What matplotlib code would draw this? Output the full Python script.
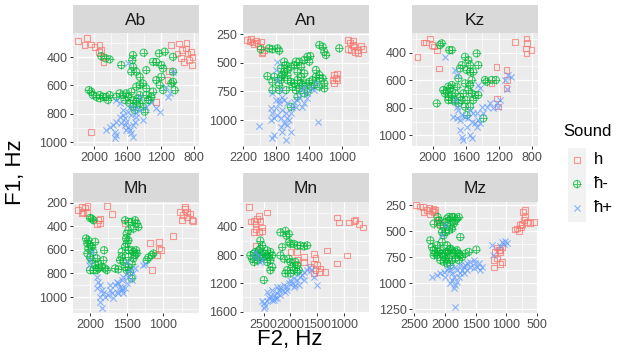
import matplotlib
matplotlib.use("Agg")
import matplotlib.pyplot as plt
from matplotlib.ticker import MultipleLocator, FixedLocator
from matplotlib.patches import Rectangle

plt.rcParams['font.family'] = ['Liberation Sans', 'DejaVu Sans']

# ---------------- data: (F2, F1) pairs per speaker and sound ----------------
SPEAKERS = ["Ab", "An", "Kz", "Mh", "Mn", "Mz"]
SOUNDS = ["h", "ħ-", "ħ+"]

AB_H = [(2187,285),(2084,264),(2111,315),(2032,311),(1992,327),(1932,315),(1912,351),(1893,398),
        (1885,433),(1940,362),(2032,927),(1256,715),(1116,562),(1096,496),(1077,315),(977,304),
        (945,351),(890,299),(878,374),(858,421),(838,362),(818,398),(826,456),(957,409),(917,433),
        (898,339),(997,374)]
AB_HM = [(1912,393),(1860,409),(1812,416),(1672,456),(1532,386),(1540,421),(1404,369),(1532,468),
         (1552,503),(1492,503),(1452,539),(1372,492),(1292,433),(1220,374),(1152,362),(1252,433),
         (1192,456),(1172,480),(1052,398),(1192,539),(1252,562),(1212,597),(1172,633),(1372,621),
         (1452,597),(1412,586),(1492,609),(1552,644),(1612,656),(1592,680),(1532,703),(1492,715),
         (1452,727),(1412,750),(1532,750),(1572,727),(1632,703),(1652,668),(1692,656),(1732,680),
         (1472,691),(1352,703),(1312,680),(1292,644),(1052,574),(1032,633),(1072,586),(1052,503),
         (2060,633),(2032,644),(2012,668),(1972,680),(1932,668),(1892,680),(1852,680),(1812,668),
         (1932,691),(1832,703),(1372,668),(1332,703),(1452,668),(1512,774),(1392,786)]
AB_HP = [(1732,703),(1692,727),(1592,445),(1652,774),(1692,821),(1632,832),(1612,856),(1732,856),
         (1772,879),(1812,891),(1852,915),(1752,926),(1752,973),(1732,950),(1552,938),(1532,962),
         (1572,915),(1532,879),(1492,821),(1492,797),(1452,774),(1412,844),(1552,809),(1592,785),
         (1572,750),(1512,856),(1632,879),(1592,891),(1672,868),(1612,915),(1452,680),(1312,715),
         (1252,762),(1212,785),(1112,680),(1092,656),(1052,503),(1132,609),(1372,750),(1652,809),
         (1512,762)]

AN_H = [(2151,300),(2119,314),(2090,323),(2110,294),(2049,305),(2029,329),(2070,335),(1988,314),
        (1996,358),(1968,402),(1948,387),(1976,416),(930,300),(898,323),(869,343),(849,358),
        (890,387),(930,381),(841,402),(808,387),(767,352),(747,381),(808,416),(869,305),
        (1093,606),(1073,635),(1052,650),(1060,592),(1093,679),(1113,650)]
AN_HM = [(1988,381),(1887,373),(1846,381),(1785,373),(1765,393),(1907,615),(1846,665),(1846,738),
         (1765,694),(1744,650),(1724,606),(1703,577),(1744,548),(1703,489),(1683,519),(1663,562),
         (1622,533),(1581,519),(1561,489),(1520,489),(1500,533),(1459,475),(1419,446),(1386,440),
         (1398,489),(1459,592),(1500,621),(1541,650),(1581,679),(1622,665),(1663,650),(1602,708),
         (1561,738),(1520,723),(1480,694),(1439,679),(1398,665),(1358,650),(1317,621),(1276,635),
         (1235,635),(1215,679),(1215,723),(1276,708),(1337,694),(1378,708),(1419,752),(1459,767),
         (1541,796),(1622,884),(1683,738),(1765,738),(1826,621),(1744,621),(1500,679),(1541,577),
         (1663,606),(1276,343),(1235,358),(1215,402),(1195,431),(1032,373),(1276,606),(1317,562)]
AN_HP = [(2009,1053),(1785,489),(1805,562),(1785,650),(1846,767),(1744,738),(1724,796),(1703,825),
         (1765,825),(1805,898),(1846,942),(1826,986),(1866,1000),(1785,957),(1744,986),(1724,913),
         (1683,942),(1663,986),(1703,1030),(1744,1059),(1663,1044),(1642,1000),(1622,942),(1602,884),
         (1581,840),(1541,825),(1520,796),(1480,884),(1459,854),(1419,811),(1500,738),(1459,708),
         (1419,767),(1378,723),(1337,738),(1317,679),(1683,1176),(1826,1132),(1846,1161),(1724,1103),
         (1296,1015),(1765,854),(1805,825),(1663,854),(1561,884),(1622,1103),(1866,898)]

KZ_H = [(2184,434),(2112,327),(2080,327),(2032,296),(2012,344),(1984,356),(1952,385),(1920,514),
        (1230,502),(1222,732),(1210,792),(1110,526),(1102,598),(1110,659),(1010,320),(870,296),
        (861,332),(877,369),(809,381),(870,405),(1290,623)]
KZ_HM = [(1912,344),(1892,332),(1800,381),(1771,381),(1611,429),(1651,490),(1671,514),(1571,453),
         (1551,490),(1471,405),(1451,490),(1551,538),(1591,526),(1511,538),(1531,598),(1551,635),
         (1571,671),(1531,695),(1491,707),(1451,707),(1511,744),(1591,744),(1551,792),(1611,792),
         (1390,877),(1370,598),(1290,598),(1238,598),(1350,611),(1691,586),(1771,635),(1792,659),
         (1832,683),(1852,695),(1812,719),(1771,707),(1731,695),(1771,744),(1731,756),(1812,744),
         (1872,671),(1952,768),(1671,719),(1631,695),(1651,744),(1691,768),(1711,647),(1611,623),
         (1591,853),(1812,647)]
KZ_HP = [(1852,429),(1731,526),(1711,562),(1451,635),(1431,659),(1731,744),(1711,792),(1691,816),
         (1751,865),(1711,877),(1671,889),(1651,853),(1611,865),(1571,877),(1531,901),(1491,913),
         (1471,937),(1451,889),(1511,840),(1671,961),(1651,1010),(1551,998),(1531,1022),(1631,1034),
         (1411,792),(1350,792),(1310,768),(1270,804),(1230,768),(1190,744),(1130,598),(1090,562),
         (1062,574),(1110,666),(1210,792),(1390,840),(1471,840),(1431,913),(1591,937),(1551,816)]

MH_H = [(2159,265),(2114,237),(2068,242),(2036,231),(2091,279),(2045,287),(2114,293),(1886,349),
        (1864,377),(1909,383),(1864,335),(1773,231),(1705,299),(1523,377),(1182,541),(1055,532),
        (1055,589),(1036,603),(1091,645),(1159,772),(864,485),(773,279),(736,307),(705,237),
        (682,279),(673,321),(636,293),(614,349),(591,355),(750,349),(700,256)]
MH_HM = [(2000,330),(1977,335),(1955,349),(2055,504),(2036,546),(2023,589),(2036,631),(2000,665),
         (1977,687),(1955,617),(1932,532),(2000,561),(2023,518),(1977,575),(1909,673),(1886,716),
         (1932,730),(1886,758),(1909,772),(1841,744),(1795,758),(1773,772),(1818,687),(1809,603),
         (1955,772),(2000,772),(1523,349),(1477,363),(1432,363),(1386,349),(1364,377),(1341,406),
         (1409,420),(1477,434),(1500,462),(1509,504),(1477,518),(1500,546),(1523,575),(1568,617),
         (1568,659),(1591,687),(1545,701),(1523,744),(1500,772),(1455,786),(1432,842),(1477,744),
         (1432,716),(1409,673),(1386,645),(1364,631),(1409,617),(1432,603),(1477,603),(1659,758),
         (1614,766),(1477,659),(1227,687),(1205,665),(1159,645),(1136,631),(1373,603)]
MH_HP = [(1977,617),(2000,687),(2009,730),(1909,828),(1886,870),(1864,899),(1909,927),(1841,941),
         (1818,969),(1864,997),(1795,997),(1750,983),(1727,941),(1705,969),(1659,899),(1636,870),
         (1614,885),(1591,913),(1568,941),(1545,969),(1523,927),(1568,856),(1500,885),(1477,828),
         (1432,856),(1409,800),(1386,758),(1455,772),(1500,800),(1636,955),(1682,1011),(1727,899),
         (1841,1096),(1864,1039),(1500,701),(1273,730),(1250,716),(1568,927),(1614,969),(1545,828)]

MN_H = [(2781,121),(2750,326),(2688,316),(2656,363),(2625,293),(2594,247),(2563,316),(2656,433),
        (2688,479),(2594,479),(2531,409),(2531,456),(2438,200),(2656,665),(2000,758),(1875,758),
        (1750,828),(1563,781),(1531,837),(1563,921),(1500,944),(1531,1014),(1563,1060),(1469,1037),
        (1438,991),(1344,1037),(1313,735),(1125,921),(1125,270),(1094,340),(938,805),(906,340),
        (813,316),(781,307),(719,363),(638,409),(1750,898),(1625,967),(1875,874)]
MN_HM = [(2750,805),(2719,851),(2688,781),(2656,758),(2625,805),(2594,828),(2563,851),(2531,805),
         (2500,828),(2469,781),(2438,805),(2406,828),(2594,735),(2563,595),(2531,665),(2438,735),
         (2375,758),(2344,805),(2375,874),(2438,898),(2344,967),(2375,1014),(2500,1153),(2563,712),
         (2625,874),(2688,898),(2188,479),(2094,456),(2075,526),(2031,502),(2156,688),(2031,619),
         (2000,642),(1938,642),(1875,665),(1813,665),(1750,679),(1688,665),(2188,805),(2125,851),
         (2031,851),(2000,898),(1969,967),(1906,898),(1875,944),(1844,1014),(1938,1014),(2063,1014),
         (2094,1060),(2000,1060),(1875,1037)]
MN_HP = [(2656,758),(2594,805),(2563,898),(2531,874),(2688,828),(2500,1479),(2469,1525),(2531,1456),
         (2500,1549),(2438,1456),(2406,1409),(2375,1386),(2344,1432),(2313,1363),(2281,1409),
         (2250,1339),(2219,1293),(2188,1246),(2156,1293),(2125,1223),(2063,1246),(2031,1200),
         (2000,1153),(1969,1200),(1938,1130),(1906,1223),(1875,1153),(1813,1107),(1781,1084),
         (1750,1037),(1688,1014),(1656,967),(1625,1014),(1563,1107),(1500,1223),(2250,1246),
         (2188,1363),(2094,1316),(2063,1293),(1938,1246),(1844,1223),(1750,1153),(2438,1316),
         (2344,1293),(2313,1432),(2250,1409)]

MZ_H = [(2467,253),(2402,263),(2359,269),(2348,317),(2293,301),(2250,276),(2212,308),(2239,333),
        (2185,285),(2158,295),(2174,317),(2130,413),(2103,397),(2076,429),(1206,780),(1152,764),
        (1125,685),(1098,685),(1071,659),(1098,700),(1152,659),(1071,796),(1098,819),(1206,851),
        (853,486),(826,477),(772,445),(744,429),(717,397),(690,365),(728,317),(701,295),(663,413),
        (609,423),(554,413),(799,499),(761,467),(1179,700)]
MZ_HM = [(2120,365),(2103,397),(2076,445),(2049,509),(2022,461),(1995,413),(1967,381),(1940,365),
         (1913,397),(1886,365),(1859,365),(1831,397),(1804,381),(1777,365),(1859,429),(1913,445),
         (1940,493),(1886,477),(1995,509),(2022,541),(1750,557),(2185,429),(2239,589),(2212,653),
         (2185,685),(2158,716),(2185,732),(2130,732),(2103,700),(2076,685),(2049,716),(2022,748),
         (1995,716),(1967,700),(1940,685),(1913,669),(1886,685),(1859,716),(1831,700),(1804,685),
         (1777,716),(1750,732),(1723,748),(1668,716),(1614,700),(1489,678),(2076,780),(2022,796),
         (1967,812),(1913,828),(1886,780),(1995,764),(2130,637),(2049,605),(1967,637),(1940,755),
         (1831,764),(1777,780)]
MZ_HP = [(2049,541),(1995,445),(2212,940),(2130,924),(2076,908),(2022,892),(1995,940),(1967,876),
         (1940,844),(1913,876),(1886,908),(1859,940),(1886,972),(1913,1004),(1831,1020),(1859,1052),
         (1804,988),(1777,940),(1750,908),(1804,876),(1723,876),(1696,844),(1668,828),(1641,812),
         (1587,796),(1533,780),(1505,812),(1478,844),(1451,812),(1424,876),(1397,844),(1533,860),
         (1587,844),(1641,876),(1696,908),(1831,1228),(1234,637),(1217,732),(1071,605),(1043,621),
         (1016,595),(989,614),(1098,646),(1831,844),(1750,828)]

# tick breaks per panel
X_TICKS = {"Ab": [2000, 1600, 1200, 800], "An": [2200, 1800, 1400, 1000],
           "Kz": [2000, 1600, 1200, 800], "Mh": [2000, 1500, 1000],
           "Mn": [2500, 2000, 1500, 1000], "Mz": [2500, 2000, 1500, 1000, 500]}
Y_TICKS = {"Ab": [400, 600, 800, 1000], "An": [250, 500, 750, 1000],
           "Kz": [400, 600, 800, 1000], "Mh": [200, 400, 600, 800, 1000],
           "Mn": [400, 800, 1200, 1600], "Mz": [250, 500, 750, 1000, 1250]}

DATA = {"Ab": (AB_H, AB_HM, AB_HP), "An": (AN_H, AN_HM, AN_HP), "Kz": (KZ_H, KZ_HM, KZ_HP),
        "Mh": (MH_H, MH_HM, MH_HP), "Mn": (MN_H, MN_HM, MN_HP), "Mz": (MZ_H, MZ_HM, MZ_HP)}

# ---------------- layout / style ----------------
W, H = 625, 356
fig = plt.figure(figsize=(W / 100, H / 100), dpi=100)
fig.patch.set_facecolor("white")

XLIM = {"Ab": (2250, 740), "An": (2204, 670), "Kz": (2249, 731),
        "Mh": (2232, 514), "Mn": (2888, 531), "Mz": (2537, 484)}
YLIM = {"Ab": (1028, 230), "An": (1227, 239), "Kz": (1078, 257),
        "Mh": (1135, 195), "Mn": (1620, 50), "Mz": (1288, 221)}

COL_L = [73, 243, 412]
PW = 126
ROWS = [(5, 28, 33, 113), (173, 29, 202, 111)]

RED, GREEN, BLUE = "#F8766D", "#00BA38", "#619CFF"
ALPHA = 0.72


def px_axes(l, t, w, h):
    return fig.add_axes([l / W, 1 - (t + h) / H, w / W, h / H])


def draw_marker(ax, xs, ys, kind):
    if kind == 0:
        ax.scatter(xs, ys, marker="s", s=17, facecolors="none", edgecolors=RED,
                   linewidths=0.8, alpha=ALPHA, zorder=3)
    elif kind == 1:
        ax.scatter(xs, ys, marker="o", s=26, facecolors="none", edgecolors=GREEN,
                   linewidths=0.8, alpha=ALPHA, zorder=3)
        ax.scatter(xs, ys, marker="+", s=26, color=GREEN, linewidths=0.7,
                   alpha=ALPHA, zorder=3)
    else:
        ax.scatter(xs, ys, marker="x", s=20, color=BLUE, linewidths=0.8,
                   alpha=ALPHA, zorder=3)


for i, name in enumerate(SPEAKERS):
    r, c = divmod(i, 3)
    st, sh, pt, ph = ROWS[r]
    l = COL_L[c]
    sax = px_axes(l, st, PW, sh)
    sax.set_facecolor("#D9D9D9")
    sax.set_xticks([]); sax.set_yticks([])
    for sp in sax.spines.values():
        sp.set_visible(False)
    sax.text(0.5, 0.45, name, ha="center", va="center", fontsize=12.5,
             color="#1A1A1A", transform=sax.transAxes)
    ax = px_axes(l, pt, PW, ph)
    ax.set_facecolor("#EBEBEB")
    for sp in ax.spines.values():
        sp.set_visible(False)
    ax.set_xlim(*XLIM[name]); ax.set_ylim(*YLIM[name])
    xt = X_TICKS[name]; yt = Y_TICKS[name]
    ax.xaxis.set_major_locator(FixedLocator(xt))
    ax.yaxis.set_major_locator(FixedLocator(yt))
    ax.xaxis.set_minor_locator(MultipleLocator(abs(xt[0] - xt[1]) / 2))
    ax.yaxis.set_minor_locator(MultipleLocator(abs(yt[0] - yt[1]) / 2))
    ax.grid(which="major", color="white", linewidth=0.9, zorder=0)
    ax.grid(which="minor", color="white", linewidth=0.45, zorder=0)
    ax.set_axisbelow(True)
    ax.tick_params(which="major", length=2.5, width=0.7, color="#333333",
                   labelsize=9, labelcolor="#4D4D4D", pad=1.5)
    ax.tick_params(which="minor", length=0)
    for k, pts in enumerate(DATA[name]):
        draw_marker(ax, [p[0] for p in pts], [p[1] for p in pts], k)

fig.text(290 / W, 1 - 340 / H, "F2, Hz", ha="center", va="center",
         fontsize=16, color="black")
fig.text(16 / W, 1 - 172 / H, "F1, Hz", ha="center", va="center",
         fontsize=16, color="black", rotation=90)

# legend
lax = fig.add_axes([0, 0, 1, 1])
lax.set_xlim(0, W); lax.set_ylim(H, 0)
lax.axis("off")
lax.text(563, 131, "Sound", ha="left", va="center", fontsize=12, color="black")
lax.add_patch(Rectangle((568, 148), 18, 74, facecolor="#F2F2F2", edgecolor="none"))
key_y = [160, 184, 208]
for k, yy in enumerate(key_y):
    draw_marker(lax, [577], [yy], k)
for yy, lab in zip(key_y, SOUNDS):
    lax.text(594, yy, lab, ha="left", va="center", fontsize=12, color="black")

fig.savefig("out.png", dpi=100)
